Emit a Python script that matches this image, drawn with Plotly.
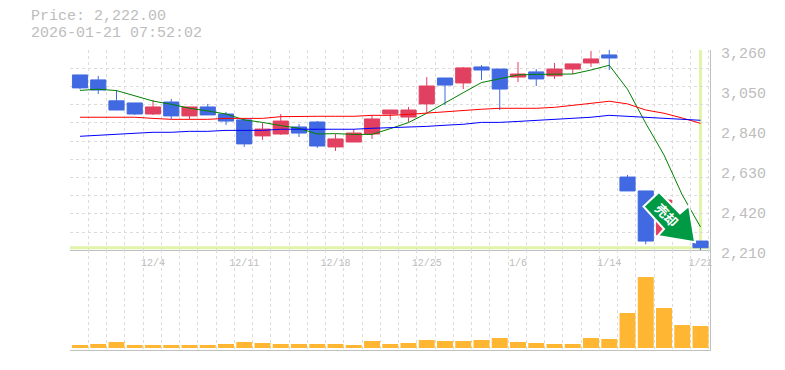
import plotly.graph_objects as go

dates = ["11/28","12/1","12/2","12/3","12/4","12/5","12/8","12/9","12/10","12/11","12/12","12/15","12/16","12/17","12/18",
         "12/19","12/22","12/23","12/24","12/25","12/26","12/29","12/30","1/5","1/6","1/7","1/8","1/9","1/13","1/14",
         "1/15","1/16","1/19","1/20","1/21"]
opens = [3129,3103,2993,2982,2924,2987,2914,2961,2924,2893,2809,2819,2856,2882,2751,2777,2819,2924,2908,2977,3113,3087,3171,3160,3118,3145,3124,3160,3192,3234,2593,2520,2289,2330,2257]
highs = [3129,3124,3050,2982,2998,3003,2961,2977,2935,2903,2877,2924,2872,2887,2819,2845,2919,2945,2961,3118,3113,3171,3181,3160,3197,3160,3192,3187,3255,3260,2604,2520,2472,2340,2257]
lows = [3054,3029,2945,2919,2919,2896,2896,2919,2866,2751,2788,2814,2803,2746,2730,2777,2793,2893,2882,2929,2971,3055,3103,2945,3092,3071,3108,3134,3171,3155,2520,2240,2289,2265,2205]
closes = [3061,3050,2945,2924,2961,2914,2961,2919,2887,2767,2845,2887,2824,2756,2793,2824,2898,2945,2945,3071,3076,3166,3155,3055,3134,3108,3160,3187,3213,3218,2520,2257,2472,2270,2222]
ma_short = [3048,3054,3047,3019,2992,2975,2954,2940,2924,2893,2880,2863,2849,2819,2821,2817,2817,2847,2879,2928,2980,3036,3089,3111,3129,3132,3132,3134,3155,3180,3054,2875,2709,2499,2331]
ma_mid = [2907,2907,2907,2907,2901,2896,2896,2896,2901,2901,2901,2910,2912,2912,2912,2912,2917,2917,2922,2929,2938,2943,2949,2954,2954,2954,2959,2968,2980,2991,2977,2945,2928,2903,2875]
ma_long = [2807,2812,2817,2823,2828,2828,2833,2833,2838,2838,2838,2844,2844,2844,2844,2844,2849,2852,2854,2859,2865,2870,2880,2880,2885,2891,2896,2901,2907,2917,2912,2907,2901,2896,2891]
volumes = [3,4,6,3,3,3,3,3,4,6,5,4,4,4,4,3,7,4,5,8,7,7,8,10,6,5,4,4,10,9,35,71,40,23,22]
price_ticks = [2210,2420,2630,2840,3050,3260]
date_tick_labels = ["12/4","12/11","12/18","12/25","1/6","1/14","1/21"]
last_price = 2222
title_lines = ["Price: 2,222.00","2026-01-21 07:52:02"]
signal_text = "売却"

idx = list(range(len(dates)))
GRID = "#dcdcdc"; FRAME = "#c0c0c0"; TXT = "#bdbdbd"; MONO = "Liberation Mono, DejaVu Sans Mono, monospace"
HL = "#e0f5a8"

fig = go.Figure()
for vals, col, nm in [(ma_short,"#008000","MA short"),(ma_mid,"#ff0000","MA mid"),(ma_long,"#0000ff","MA long")]:
    fig.add_trace(go.Scatter(x=idx,y=vals,mode="lines",name=nm,line=dict(color=col,width=1),xaxis="x",yaxis="y"))
fig.add_trace(go.Candlestick(x=idx,open=opens,high=highs,low=lows,close=closes,whiskerwidth=0,name="Price",
    increasing=dict(line=dict(color="#e24060",width=1),fillcolor="#e24060"),
    decreasing=dict(line=dict(color="#4169e1",width=1),fillcolor="#4169e1"),xaxis="x",yaxis="y"))
fig.add_trace(go.Bar(x=idx,y=volumes,marker=dict(color="#ffb733",line=dict(width=0)),name="Volume",xaxis="x2",yaxis="y2"))

xminor = dict(tickmode="linear",tick0=-0.548,dtick=1,showgrid=True,gridcolor=GRID,griddash="3px,3px",gridwidth=1,ticks="")
xrange_ = [-0.548,34.52]
fig.update_layout(
    width=769,height=354,autosize=False,showlegend=False,paper_bgcolor="white",plot_bgcolor="white",
    margin=dict(l=62,r=67,t=42,b=12,autoexpand=False),boxgap=0.17,boxgroupgap=0,bargap=0.125,
    xaxis=dict(domain=[0,1],range=xrange_,anchor="y",rangeslider=dict(visible=False),tickmode="array",
               tickvals=[dates.index(d) for d in date_tick_labels],ticktext=date_tick_labels,showgrid=False,
               zeroline=False,showline=True,linecolor=FRAME,linewidth=1,ticks="",ticklabelstandoff=3,
               tickfont=dict(family=MONO,size=10,color=TXT),minor=xminor),
    xaxis2=dict(domain=[0,1],range=xrange_,anchor="y2",matches="x",showticklabels=False,showgrid=False,zeroline=False,
                showline=True,linecolor=FRAME,linewidth=1,ticks="",minor=xminor),
    yaxis=dict(domain=[1/3,1],range=[2210,3260],side="right",anchor="x",tickmode="array",tickvals=price_ticks,
               tickformat=",d",showgrid=False,zeroline=False,showline=True,linecolor=FRAME,linewidth=1,ticks="",
               ticklabelstandoff=7,ticklabelshift=3,tickfont=dict(family=MONO,size=15,color=TXT),
               minor=dict(tickmode="linear",tick0=3259.9,dtick=95.55,showgrid=True,gridcolor=GRID,griddash="3px,3px",gridwidth=1,ticks="")),
    yaxis2=dict(domain=[0,1/3],range=[-2,98],side="right",anchor="x2",showticklabels=False,showgrid=False,zeroline=False,
                showline=True,linecolor=FRAME,linewidth=1,ticks=""),
    shapes=[
        dict(type="line",xref="x domain",x0=0,x1=1,yref="y",y0=last_price,y1=last_price,layer="below",line=dict(color=HL,width=3)),
        dict(type="line",xref="x",x0=idx[-1],x1=idx[-1],yref="y domain",y0=0,y1=1,layer="below",line=dict(color=HL,width=3)),
        dict(type="path",xref="x",yref="y",xsizemode="pixel",ysizemode="pixel",xanchor=idx[-1],yanchor=last_price,
             path="M -57 41.2 L -41.5 55.7 L -20.5 34.4 L -11.5 42 L -5.5 5.4 L -42.8 11.7 L -36.5 18.7 Z",
             fillcolor="#009944",line=dict(color="white",width=2),layer="above"),
    ],
    annotations=[
        dict(x=idx[-1],y=last_price,xref="x",yref="y",text="<b>"+signal_text+"</b>",textangle=45,showarrow=False,xshift=-34,yshift=33,
             font=dict(family="Noto Sans CJK JP",size=13,color="white")),
        dict(x=-40/640,y=(370-20-17)/300,xref="paper",yref="paper",xanchor="left",yanchor="middle",text=title_lines[0],showarrow=False,borderpad=0,
             font=dict(family=MONO,size=15,color=TXT)),
        dict(x=-40/640,y=(370-20-33)/300,xref="paper",yref="paper",xanchor="left",yanchor="middle",text=title_lines[1],showarrow=False,borderpad=0,
             font=dict(family=MONO,size=15,color=TXT)),
    ],
)
fig.write_html("out.html")
